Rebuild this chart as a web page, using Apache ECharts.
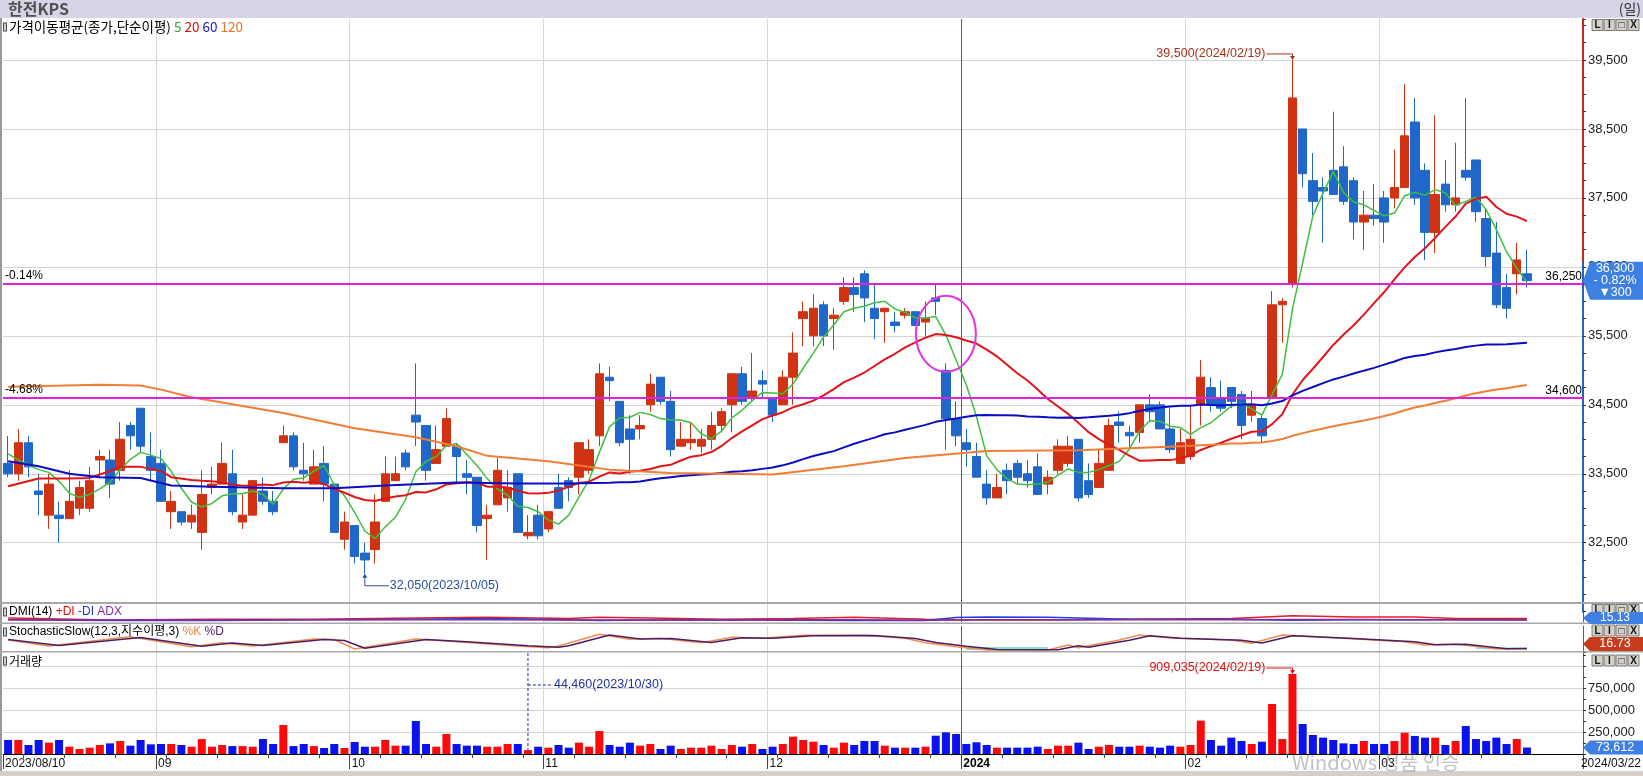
<!DOCTYPE html>
<html>
<head>
<meta charset="utf-8">
<title>한전KPS</title>
<script src="https://cdn.jsdelivr.net/npm/echarts@6/dist/echarts.min.js"></script>
<style>
html,body{margin:0;padding:0;background:#fff;overflow:hidden;}
#chart{width:1643px;height:776px;}
</style>
</head>
<body>
<div id="chart"></div>
<script>
// ================= DATA =================
const monthDays = [
  ['2023/08', [10,11,14,16,17,18,21,22,23,24,25,28,29,30,31]],
  ['2023/09', [1,4,5,6,7,8,11,12,13,14,15,18,19,20,21,22,25,26,27]],
  ['2023/10', [4,5,6,10,11,12,13,16,17,18,19,20,23,24,25,26,27,30,31]],
  ['2023/11', [1,2,3,6,7,8,9,10,13,14,15,16,17,20,21,22,23,24,27,28,29,30]],
  ['2023/12', [1,4,5,6,7,8,11,12,13,14,15,18,19,20,21,22,26,27,28]],
  ['2024/01', [2,3,4,5,8,9,10,11,12,15,16,17,18,19,22,23,24,25,26,29,30,31]],
  ['2024/02', [1,2,5,6,7,8,13,14,15,16,19,20,21,22,23,26,27,28,29]],
  ['2024/03', [4,5,6,7,8,11,12,13,14,15,18,19,20,21,22]]
];

const open = [
  33650,33500,33950,33250,32900,32900,32850,33000,33000,33700,
  33700,33550,34200,34450,33750,33650,32950,32950,32800,32650,
  33300,33350,33500,32800,32900,33250,33100,33950,34050,33550,
  33350,33650,33350,32550,32750,32350,32400,33100,33400,33800,
  34350,34200,33650,33900,33900,33500,33450,32850,33050,33150,
  33500,32600,32900,32700,33300,33400,33450,33550,34050,34900,
  34550,34150,34150,34500,34900,34550,33900,33950,33900,34000,
  34200,34500,34950,34600,34850,34600,34500,34900,35750,35500,
  35950,35750,36000,36200,36400,35900,35850,35700,35800,35850,
  35700,36050,35000,34300,33950,33750,33350,33150,33550,33650,
  33500,33600,33350,33550,33650,34000,33400,33300,33550,34250,
  34100,34100,34500,34500,34150,33650,33750,34500,34750,34600,
  34750,34650,34350,34300,34600,35950,36250,38500,37750,37650,
  37900,37950,37750,37150,37250,37500,37500,37650,38600,37900,
  37000,37700,37400,37900,38050,37200,36700,36200,36400,36400
];
const high = [
  34050,34150,34050,33500,33500,33100,33550,33400,33600,33850,
  33850,34250,34250,34450,34100,33850,33250,32950,33050,33550,
  33600,33950,33850,33200,33400,33450,33250,34200,34100,33950,
  33850,33900,33350,32950,32750,32500,33200,33750,33750,33850,
  35100,34200,34200,34450,33950,33700,33450,33050,33750,33550,
  33500,32900,33050,32950,33500,33450,33950,34000,35100,35050,
  34550,34350,34350,34950,34900,34700,34250,34250,34150,34400,
  34450,34950,35050,35250,35000,34600,35000,35550,36000,36100,
  36000,35900,36350,36350,36450,36250,35900,35850,35900,35850,
  36000,36250,35100,34550,34150,33950,33550,33500,33650,33700,
  33700,33800,33550,34000,34050,34000,33650,33850,34300,34400,
  34200,34500,34650,34550,34450,34150,34500,35150,34900,34850,
  34750,34700,34700,34350,36150,36050,39500,38500,38150,37800,
  38750,38250,37800,37600,37700,37600,38200,39150,38950,38000,
  38700,38050,38300,38950,38050,37350,37150,36400,36850,36750
];
const low = [
  33450,33400,33450,32900,32700,32500,32850,32900,32950,33450,
  33150,33400,33850,33800,33400,33100,32700,32750,32700,32400,
  33200,33350,32900,32700,32900,33050,32900,33950,33550,33400,
  33350,33100,32650,32400,32200,32050,32200,33100,33400,33550,
  33900,33400,33650,33900,33350,33200,32650,32250,33050,32950,
  32650,32550,32550,32650,33000,33100,33200,33500,33900,34550,
  33900,33500,34000,34400,34500,33750,33900,33850,33800,33850,
  34100,34100,34500,34550,34600,34250,34500,34500,35350,35350,
  35350,35300,35950,35850,35700,35450,35400,35550,35750,35650,
  35500,35800,33850,33900,33600,33450,33050,33150,33200,33350,
  33300,33200,33200,33500,33600,33100,33150,33300,33550,33950,
  33850,33950,34250,34150,33800,33650,33700,34200,34400,34400,
  34450,34000,34250,33950,34600,35400,36200,37650,37250,36850,
  37550,37400,36900,36750,37100,36850,37350,37650,37400,36600,
  36700,37300,37300,37750,37150,36500,35900,35750,36100,36200
];
const close = [
  33500,33950,33600,33200,33350,32850,33100,33300,33400,33750,
  33350,34000,34050,33900,33550,33100,33100,32800,32900,33200,
  33350,33650,32950,32900,33400,33100,32950,34050,33600,33500,
  33600,33350,32650,32800,32300,32250,32800,33500,33500,33600,
  34250,33550,33850,34300,33750,33450,32750,32900,33550,33300,
  32650,32650,32600,32950,33000,33300,33950,33850,34950,34850,
  33950,34000,34200,34800,34550,33850,34000,34000,34000,34200,
  34400,34950,34550,34700,34800,34350,34900,35250,35850,35900,
  35500,35800,36200,36100,36050,35750,35900,35650,35850,35650,
  35750,36000,34300,34050,33850,33450,33150,33300,33400,33450,
  33400,33200,33450,33900,33900,33150,33200,33650,34200,34200,
  34050,34500,34400,34150,33850,33950,34000,34900,34500,34450,
  34550,34200,34500,34050,35950,36000,38950,37850,37450,37600,
  37550,37450,37150,37250,37200,37150,37650,38400,37500,37000,
  37550,37400,37500,37800,37300,36650,35950,35900,36600,36300
];
const volume = [
  159000,159000,102000,159000,129000,159000,83000,57000,72000,102000,
  121000,148000,95000,159000,110000,114000,114000,102000,83000,170000,
  83000,102000,90000,90000,83000,170000,114000,330000,90000,114000,
  90000,68000,114000,68000,136000,83000,83000,159000,95000,95000,
  375000,114000,83000,227000,114000,95000,95000,83000,83000,114000,
  114000,44460,83000,72000,102000,72000,129000,83000,261000,102000,
  83000,129000,95000,114000,57000,95000,57000,72000,72000,95000,
  57000,102000,83000,114000,57000,83000,114000,197000,159000,140000,
  102000,72000,129000,102000,148000,148000,95000,72000,72000,72000,
  83000,208000,246000,227000,114000,133000,102000,72000,72000,72000,
  72000,83000,57000,95000,95000,129000,57000,83000,102000,83000,
  83000,95000,83000,72000,95000,83000,102000,379000,159000,95000,
  186000,148000,114000,140000,568000,170000,909035,341000,216000,186000,
  159000,121000,114000,148000,114000,114000,148000,242000,205000,186000,
  186000,102000,148000,318000,170000,148000,186000,114000,170000,73612
];

const ma5Head   = [[0,33790],[1,33700],[2,33630],[3,33560]];
const ma20Head  = [[0,33320],[3,33430],[6,33430],[8,33440],[10,33540],[11,33600],[13,33600],[15,33540],[16,33450],[18,33410]];
const ma60Head  = [[0,33680],[3,33610],[6,33500],[9,33450],[13,33440],[16,33330],[20,33310],[27,33290],[32,33290],[37,33330],[44,33375],[50,33360],[55,33360]];
const ma120Head = [[0,34760],[9,34790],[13,34780],[15,34720],[18,34610],[27,34380],[34,34160],[40,34030],[44,33900],[47,33760],[53,33680],[59,33560],[65,33510],[75,33490],[82,33610],[88,33730],[96,33830],[105,33840],[115,33900]];

// DMI(14) (read from the thin strip)
const dmiIdx  = [0,10,20,30,40,47,55,58,63,70,77,83,90,93,96,102,110,120,126,132,138,142,149];
const plusDI  = [14,7,10,10,14,17,12,17,14,10,12,17,10,8,7,7,10,12,22,18,18,12,12];
const minusDI = [8,5,5,8,10,12,8,5,7,8,6,5,5,16,18,17,10,10,6,8,8,8,8];
const adxVal  = [8,7,7,8,8,8,7,7,7,7,8,8,6,7,8,8,8,8,9,9,8,8,7];

// Stochastic slow %K / %D
const stochK = [[0,44],[4,20],[12,57],[18,17],[21,33],[24,20],[30,48],[32,46],[34,8],[40,48],[44,37],[50,20],[53,13],[54,20],[58,67],[61,47],[64,51],[68,33],[71,55],[74,51],[78,63],[84,63],[88,51],[90,33],[93,17],[96,4],[102,4],[104,24],[105,13],[109,44],[111,64],[114,52],[120,44],[122,31],[125,64],[131,51],[137,37],[139,24],[142,28],[146,8],[149,9]];
const stochD = [[0,46],[5,22],[13,54],[19,19],[22,32],[25,22],[31,46],[33,42],[35,11],[41,46],[45,37],[51,21],[54,15],[55,21],[59,64],[62,48],[65,50],[69,34],[72,53],[75,51],[79,61],[85,62],[89,50],[91,34],[94,19],[97,6],[103,5],[105,21],[106,15],[110,43],[112,61],[115,51],[121,43],[123,32],[126,61],[132,50],[138,37],[140,25],[143,27],[147,9],[149,10]];

const priceLabels = [32500,33500,34500,35500,36500,37500,38500,39500];
const volLabels = [250000,500000,750000];
const hLines = [36250, 34600];
const hLinePct = ['-0.14%', '-4.68%'];

// ================= DERIVED =================
const dates = [];
monthDays.forEach(([m, ds]) => ds.forEach(d => dates.push(m + '/' + String(d).padStart(2, '0'))));
const N = dates.length;
const cats = dates.concat(['p1','p2','p3','p4','p5']);

const dObj = dates.map(s => { const [y, m, d] = s.split('/').map(Number); return new Date(y, m - 1, d); });
const weekSet = new Set();
const monthStarts = [];
for (let i = 1; i < N; i++) {
  if (dObj[i].getDay() <= dObj[i - 1].getDay() || (dObj[i] - dObj[i - 1]) >= 7 * 864e5) weekSet.add(i);
  if (dates[i].slice(0, 7) !== dates[i - 1].slice(0, 7)) monthStarts.push(i);
}
const monthSet = new Set(monthStarts);
const labelMap = new Map([[0, dates[0]]]);
monthStarts.forEach(i => labelMap.set(i, dates[i].startsWith('2024/01') ? '2024' : dates[i].slice(5, 7)));
const yearIdx = monthStarts.find(i => dates[i].startsWith('2024/01'));
const vGridColors = monthStarts.map(i => i === yearIdx ? '#d42c2c' : '#d6d6d6').concat(['#d6d6d6']);

function movingAverage(n, head) {
  const out = new Array(N).fill(null);
  head.forEach(([i, v]) => { out[i] = v; });
  for (let i = n - 1; i < N; i++) {
    let s = 0;
    for (let k = i - n + 1; k <= i; k++) s += close[k];
    out[i] = Math.round(s / n);
  }
  return out.map((v, i) => [i, v]).filter(p => p[1] !== null);
}

const fmt = v => Number(v).toLocaleString('en-US');

const PMIN = 31500, PMAX = 40094, PINT = 250;
const priceTicks = [];
for (let v = PMIN; v <= 40000; v += PINT) priceTicks.push(v);
priceTicks.push(PMAX);
const priceGridColors = priceTicks.map(v => priceLabels.includes(v) ? '#d4d4d4' : 'rgba(0,0,0,0)');

const VMAX = 1159000, VINT = 125000;
const volTicks = [];
for (let v = 0; v <= 1125000; v += VINT) volTicks.push(v);
volTicks.push(VMAX);
const volGridColors = volTicks.map(v => (v > 0 && v <= 1000000 && v % 250000 === 0) ? '#d4d4d4' : 'rgba(0,0,0,0)');

const RED = '#d03212', BLUE = '#1f68c9';
const VRED = '#fa0a0a', VBLUE = '#0a12ee';
const NUMF = '"Liberation Sans Narrow","Liberation Sans",Arial,sans-serif';
const KR = '"Noto Sans CJK KR","Liberation Sans",sans-serif';
const LBL = '"Liberation Sans","Noto Sans CJK KR",sans-serif';

const candleData = open.map((o, i) => [o, close[i], low[i], high[i]]);
const volData = volume.map((v, i) => ({ value: v, itemStyle: { color: close[i] >= open[i] ? VRED : VBLUE } }));

// ================= OPTION =================
const GL = 3, GR = 60;
const PTOP = 19, PH = 592.7;
const grids = [
  { left: GL, right: GR, top: PTOP, height: PH, outerBoundsMode: 'none' },
  { left: GL, right: GR, top: 605, height: 17, outerBoundsMode: 'none' },
  { left: GL, right: GR, top: 626, height: 25, outerBoundsMode: 'none' },
  { left: GL, right: GR, top: 652, height: 102, outerBoundsMode: 'none' }
];

const xAxes = [0, 1, 2, 3].map(g => ({
  type: 'category', gridIndex: g, data: cats, boundaryGap: true,
  axisLine: { show: g === 3, onZero: false, lineStyle: { color: '#000', width: 1 } },
  axisTick: { show: g === 3, interval: i => weekSet.has(i), length: 4, lineStyle: { color: '#444' } },
  axisLabel: {
    show: g === 3, interval: i => labelMap.has(i), margin: 4,
    formatter: (v, i) => { const t = labelMap.get(i); if (!t) return ''; return t === '2024' ? '{b|2024}' : '{m|' + t + '}'; },
    rich: {
      m: { width: 6, align: 'left', fontSize: 12, fontFamily: NUMF, color: '#111' },
      b: { width: 6, align: 'left', fontSize: 12, fontWeight: 'bold', fontFamily: NUMF, color: '#000' }
    }
  },
  splitLine: { show: true, interval: i => monthSet.has(i), lineStyle: { color: vGridColors, width: 1 } },
  axisPointer: { show: false }
}));
// long month ticks under the time axis
xAxes.push({
  type: 'category', gridIndex: 3, data: cats, boundaryGap: true, position: 'top', offset: -102,
  axisLine: { show: false }, axisLabel: { show: false }, splitLine: { show: false },
  axisTick: { show: true, inside: true, interval: i => monthSet.has(i) || i === 0, length: 15, lineStyle: { color: '#444' } }
});

const yAxes = [
  {
    type: 'value', gridIndex: 0, position: 'right', min: PMIN, max: PMAX, interval: PINT, scale: false,
    axisLine: { show: true, lineStyle: { color: BLUE, width: 2 } },
    axisTick: { show: true, length: 3, lineStyle: { color: '#333' } },
    axisLabel: { show: true, margin: 5, color: '#222', fontSize: 13, fontFamily: NUMF,
      formatter: v => priceLabels.includes(v) ? fmt(v) : '' },
    splitLine: { show: true, lineStyle: { color: priceGridColors, width: 1 } }
  },
  { type: 'value', gridIndex: 1, position: 'right', min: 0, max: 60,
    axisLine: { show: true, lineStyle: { color: '#606060', width: 1 } }, axisTick: { show: false }, axisLabel: { show: false }, splitLine: { show: false } },
  { type: 'value', gridIndex: 2, position: 'right', min: 0, max: 100,
    axisLine: { show: true, lineStyle: { color: '#606060', width: 1 } }, axisTick: { show: false }, axisLabel: { show: false }, splitLine: { show: false } },
  {
    type: 'value', gridIndex: 3, position: 'right', min: 0, max: VMAX, interval: VINT,
    axisLine: { show: true, lineStyle: { color: '#606060', width: 1 } },
    axisTick: { show: true, length: 3, lineStyle: { color: '#333' } },
    axisLabel: { show: true, margin: 5, color: '#222', fontSize: 13, fontFamily: NUMF,
      formatter: v => volLabels.includes(v) ? fmt(v) : '' },
    splitLine: { show: true, lineStyle: { color: volGridColors, width: 1 } }
  }
];

const mlData = [];
hLines.forEach((v, k) => {
  mlData.push({ yAxis: v, label: { position: 'insideStartTop', formatter: hLinePct[k], distance: 2 } });
  mlData.push({ yAxis: v, label: { position: 'insideEndTop', formatter: fmt(v), distance: 1 } });
});

const maLine = (name, data, color, width) => ({
  name, type: 'line', xAxisIndex: 0, yAxisIndex: 0, data, showSymbol: false, symbol: 'none',
  connectNulls: true, lineStyle: { color, width }, silent: true, z: 3
});
const thinLine = (name, g, data, color, width) => ({
  name, type: 'line', xAxisIndex: g, yAxisIndex: g, data, showSymbol: false, symbol: 'none',
  lineStyle: { color, width }, silent: true, z: 3
});

const series = [
  {
    name: 'price', type: 'candlestick', xAxisIndex: 0, yAxisIndex: 0, data: candleData, barWidth: 9,
    itemStyle: { color: RED, color0: BLUE, borderColor: RED, borderColor0: BLUE, borderWidth: 1 },
    silent: true, z: 2,
    markLine: {
      silent: true, symbol: ['none', 'none'], animation: false, z: 4,
      lineStyle: { color: '#dc22dc', width: 2, type: 'solid' },
      label: { show: true, color: '#000', fontSize: 12, fontFamily: NUMF },
      emphasis: { disabled: true },
      data: mlData
    }
  },
  maLine('MA5', movingAverage(5, ma5Head), '#3fbf3f', 1.5),
  maLine('MA20', movingAverage(20, ma20Head), '#e2141a', 2),
  maLine('MA60', movingAverage(60, ma60Head), '#0c0cc4', 2),
  maLine('MA120', movingAverage(120, ma120Head), '#f27d34', 2),
  thinLine('+DI', 1, dmiIdx.map((i, k) => [i, plusDI[k]]), '#e02020', 1.5),
  thinLine('-DI', 1, dmiIdx.map((i, k) => [i, minusDI[k]]), '#2040e0', 1.5),
  thinLine('ADX', 1, dmiIdx.map((i, k) => [i, adxVal[k]]), '#8a2aa0', 1.5),
  Object.assign(thinLine('%K', 2, stochK, '#f08c50', 1.5), {
    markArea: { silent: true, itemStyle: { color: 'rgba(110,225,205,0.85)' },
      data: [[{ xAxis: 94, yAxis: 4 }, { xAxis: 102, yAxis: 16 }], [{ xAxis: 144, yAxis: 8 }, { xAxis: 149, yAxis: 14 }]] }
  }),
  thinLine('%D', 2, stochD, '#4a1e62', 1.5),
  { name: 'volume', type: 'bar', xAxisIndex: 3, yAxisIndex: 3, data: volData, barWidth: 8, silent: true }
];

const chart = echarts.init(document.getElementById('chart'), null, { renderer: 'canvas', width: 1643, height: 776 });
chart.setOption({
  animation: false, backgroundColor: '#ffffff',
  grid: grids, xAxis: xAxes, yAxis: yAxes, series: series, tooltip: { show: false }
});

// ================= ANNOTATIONS / DECORATION =================
const px = (g, x, y) => chart.convertToPixel({ xAxisIndex: g, yAxisIndex: g }, [x, y]);
const G = [];
const R = (x, y, w, h, fill, style) => G.push({ type: 'rect', z: 100, silent: true, shape: { x, y, width: w, height: h }, style: Object.assign({ fill }, style || {}) });
const T = (x, y, text, opt) => G.push({ type: 'text', z: 102, silent: true, x, y, style: Object.assign({ text, fill: '#000', fontSize: 12, fontFamily: LBL, verticalAlign: 'middle' }, opt || {}) });
const PL = (pts, stroke, opt) => G.push({ type: 'polyline', z: 101, silent: true, shape: { points: pts }, style: Object.assign({ stroke, lineWidth: 1, fill: null }, opt || {}) });
const PG = (pts, fill, z) => G.push({ type: 'polygon', z: z || 101, silent: true, shape: { points: pts }, style: { fill } });

// header
R(0, 0, 1643, 18, '#d7d4e7');
T(8, 9, '한전KPS', { fontSize: 16, fontWeight: 'bold', fill: '#505050', fontFamily: KR });
T(1641, 9, '(일)', { textAlign: 'right', fontSize: 14, fill: '#333', fontFamily: KR });
// frame
R(0, 18, 2, 758, '#9a9a9a');
R(0, 602, 1643, 2, '#a8a8a8');
R(0, 622.5, 1643, 1.5, '#a8a8a8');
R(0, 651, 1643, 1.5, '#a8a8a8');
R(0, 771, 1643, 5, '#d4d0c8');

// panel titles
const icon = y => { R(3, y - 4.5, 4, 9, '#4a4a4a'); R(4, y - 3.5, 2, 7, '#cfcfcf'); };
icon(27);
T(9, 27, '{k|가격이동평균(종가,단순이평)} {g|5} {r|20} {b|60} {o|120}', { fontFamily: KR, fontSize: 13.5,
  rich: { k: { fill: '#000' }, g: { fill: '#2ea82e' }, r: { fill: '#d01010' }, b: { fill: '#1018c0' }, o: { fill: '#e8742a' } } });
icon(612);
T(9, 612, '{k|DMI(14)} {r|+DI} {b|-DI} {p|ADX}', { fontSize: 12,
  rich: { k: { fill: '#000' }, r: { fill: '#e01010' }, b: { fill: '#2030d8' }, p: { fill: '#8030a0' } } });
icon(632);
T(9, 632, '{k|StochasticSlow(12,3,지수이평,3)} {o|%K} {p|%D}', { fontSize: 12,
  rich: { k: { fill: '#000' }, o: { fill: '#f08040' }, p: { fill: '#4a1e62' } } });
icon(661);
T(9, 661, '거래량', { fontSize: 12, fontFamily: KR });

// L I □ X buttons
const btns = y => ['L', 'I', '□', 'X'].forEach((c, k) => {
  const x = 1592 + k * 12;
  R(x, y, 11, 11, '#d4d0c8', { stroke: '#7a7a7a', lineWidth: 1 });
  T(x + 5.5, y + 6, c, { textAlign: 'center', fontSize: 10, fontWeight: 'bold', fill: '#111' });
});

// price max / min annotations
let P = px(0, 126, 39500);
PL([[P[0] - 26, P[1] - 6], [P[0], P[1] - 6], [P[0], P[1] - 2]], '#a8321a');
PG([[P[0] - 2.5, P[1] - 4], [P[0] + 2.5, P[1] - 4], [P[0], P[1]]], '#a8321a');
T(P[0] - 27, P[1] - 6, '39,500(2024/02/19)', { textAlign: 'right', fill: '#a8321a', fontFamily: NUMF, fontSize: 12.5 });

P = px(0, 35, 32050);
PL([[P[0], P[1] + 2], [P[0], P[1] + 12], [P[0] + 24, P[1] + 12]], '#2a4f9a');
PG([[P[0] - 2.5, P[1] + 4], [P[0] + 2.5, P[1] + 4], [P[0], P[1]]], '#2a4f9a');
T(P[0] + 25, P[1] + 12, '32,050(2023/10/05)', { fill: '#2a4f9a', fontFamily: NUMF, fontSize: 12.5 });

// volume max / min annotations
P = px(3, 126, 909035);
PL([[P[0] - 26, P[1] - 6], [P[0], P[1] - 6], [P[0], P[1] - 2]], '#e01010');
PG([[P[0] - 2.5, P[1] - 4], [P[0] + 2.5, P[1] - 4], [P[0], P[1]]], '#e01010');
T(P[0] - 27, P[1] - 6, '909,035(2024/02/19)', { textAlign: 'right', fill: '#e01010', fontFamily: NUMF, fontSize: 12.5 });

P = px(3, 51, 44460);
const vTop = px(3, 51, VMAX)[1];
PL([[P[0], vTop + 1], [P[0], P[1]]], '#2030a8', { lineDash: [3, 2] });
PL([[P[0], 685], [P[0] + 24, 685]], '#2030a8', { lineDash: [3, 2] });
T(P[0] + 26, 685, '44,460(2023/10/30)', { fill: '#2030a8', fontFamily: NUMF, fontSize: 12.5 });

// hand-drawn circle
const C = px(0, 92, 35530);
G.push({ type: 'ellipse', z: 101, silent: true, shape: { cx: C[0], cy: C[1], rx: 30, ry: 38 }, style: { fill: null, stroke: '#e036e0', lineWidth: 2 } });

// right-hand value tags
const tag = (yc, h, fill, z) => PG([[1583, yc], [1590, yc - h / 2], [1643, yc - h / 2], [1643, yc + h / 2], [1590, yc + h / 2]], fill, z);
const yPrice = px(0, N - 1, close[N - 1])[1];
tag(yPrice, 38, '#3d7fe2', 103);
T(1615, yPrice - 12, fmt(close[N - 1]), { textAlign: 'center', fill: '#fff', fontFamily: NUMF, fontSize: 12.5 });
T(1615, yPrice, '- 0.82%', { textAlign: 'center', fill: '#fff', fontFamily: NUMF, fontSize: 12.5 });
T(1615, yPrice + 12, '▼300', { textAlign: 'center', fill: '#fff', fontFamily: NUMF, fontSize: 12.5 });

tag(618, 12, '#3d7fe2', 103);
T(1615, 618, '15.13', { textAlign: 'center', fill: '#fff', fontFamily: NUMF, fontSize: 12 });
tag(644, 14, '#c83c1e', 103);
T(1615, 644, '16.73', { textAlign: 'center', fill: '#fff', fontFamily: NUMF, fontSize: 12.5 });
const yVol = px(3, N - 1, volume[N - 1])[1];
tag(yVol, 14, '#3d7fe2', 103);
T(1615, yVol, fmt(volume[N - 1]), { textAlign: 'center', fill: '#fff', fontFamily: NUMF, fontSize: 12.5 });
G.forEach(e => { if (e.type === 'text' && e.x === 1615) e.z = 104; });

btns(19.5); btns(604.5); btns(625); btns(655);

// time-axis end label
T(1641, 764, dates[N - 1], { textAlign: 'right', fontFamily: NUMF, fontSize: 12, fill: '#111' });
// OS watermark visible in the screenshot
T(1292, 762, 'Windows 정품 인증', { fontFamily: KR, fontSize: 20, fill: 'rgba(120,120,120,0.45)' });

// axis line: red above the current price tag, blue below
const yTop = PTOP, yBot = PTOP + PH;
const cut = Math.max(0, Math.min(1, (yPrice - 19 - yTop) / (yBot - yTop)));
const grad = new echarts.graphic.LinearGradient(0, yTop, 0, yBot, [
  { offset: 0, color: '#c8281e' }, { offset: cut, color: '#c8281e' },
  { offset: Math.min(1, cut + 0.0005), color: '#2466c8' }, { offset: 1, color: '#2466c8' }
], true);

chart.setOption({ yAxis: [{ axisLine: { lineStyle: { color: grad } } }], graphic: { elements: G } });
</script>
</body>
</html>
